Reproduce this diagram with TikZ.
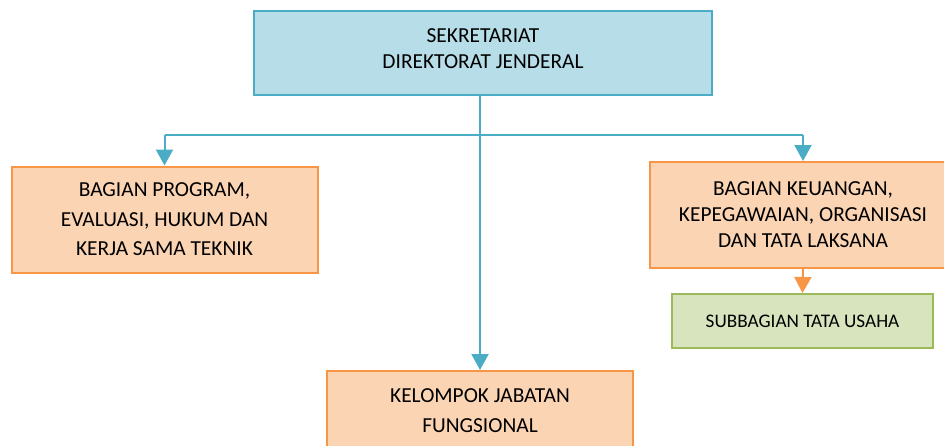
\documentclass[tikz,border=0pt]{standalone}
\usepackage{fontspec}
\setmainfont{Carlito}
\usetikzlibrary{arrows.meta}

\definecolor{sekfill}{HTML}{B7DDE8}
\definecolor{sekline}{HTML}{4BACC6}
\definecolor{bagfill}{HTML}{FBD4B4}
\definecolor{bagline}{HTML}{F79646}
\definecolor{subfill}{HTML}{D7E4BD}
\definecolor{subline}{HTML}{9BBB59}

\begin{document}
\begin{tikzpicture}[
    x=1pt, y=-1pt,
    unit/.style={draw, line width=2pt, align=center, inner sep=0pt,
        font={\fontsize{21.4}{26}\selectfont}},
    sekbox/.style={unit, fill=sekfill, draw=sekline,
        minimum width=458pt, minimum height=84pt, text depth=9pt},
    bagbox/.style={unit, fill=bagfill, draw=bagline,
        minimum width=306pt, minimum height=106pt},
    subbox/.style={unit, fill=subfill, draw=subline,
        minimum width=261pt, minimum height=54pt,
        font={\fontsize{19.2}{26}\selectfont}},
    conn/.style={draw=sekline, line width=2pt},
    tip/.style={-{Triangle[width=17pt,length=16pt]}},
    ]

    \useasboundingbox (0,0) rectangle (944,445);

    % Boxes
    \node[sekbox] (sek) at (483,53) {SEKRETARIAT\\DIREKTORAT JENDERAL};
    \node[bagbox, font={\fontsize{21.4}{29.5}\selectfont}] (prog)
        at (164.5,219.5)
        {BAGIAN PROGRAM,\\EVALUASI, HUKUM DAN\\KERJA SAMA TEKNIK};
    \node[bagbox] (keu) at (803,215)
        {BAGIAN KEUANGAN,\\KEPEGAWAIAN, ORGANISASI\\DAN TATA LAKSANA};
    \node[subbox] (sub) at (802.5,321) {SUBBAGIAN TATA USAHA};
    \node[bagbox, minimum height=79pt,
        font={\fontsize{21.4}{30}\selectfont}] (fung) at (480,410.5)
        {KELOMPOK JABATAN\\FUNGSIONAL};

    % Connectors
    \coordinate (bus) at (481,135);
    \draw[conn] (bus -| prog.north) -- (bus -| keu.north);
    \draw[conn,tip] (bus -| prog.north) -- (prog.north);
    \draw[conn,tip] (bus -| keu.north) -- (keu.north);
    \draw[conn,tip] (sek.south -| fung.north) -- (fung.north);
    \draw[conn,draw=bagline,tip] (keu.south) -- (sub.north);
\end{tikzpicture}
\end{document}
